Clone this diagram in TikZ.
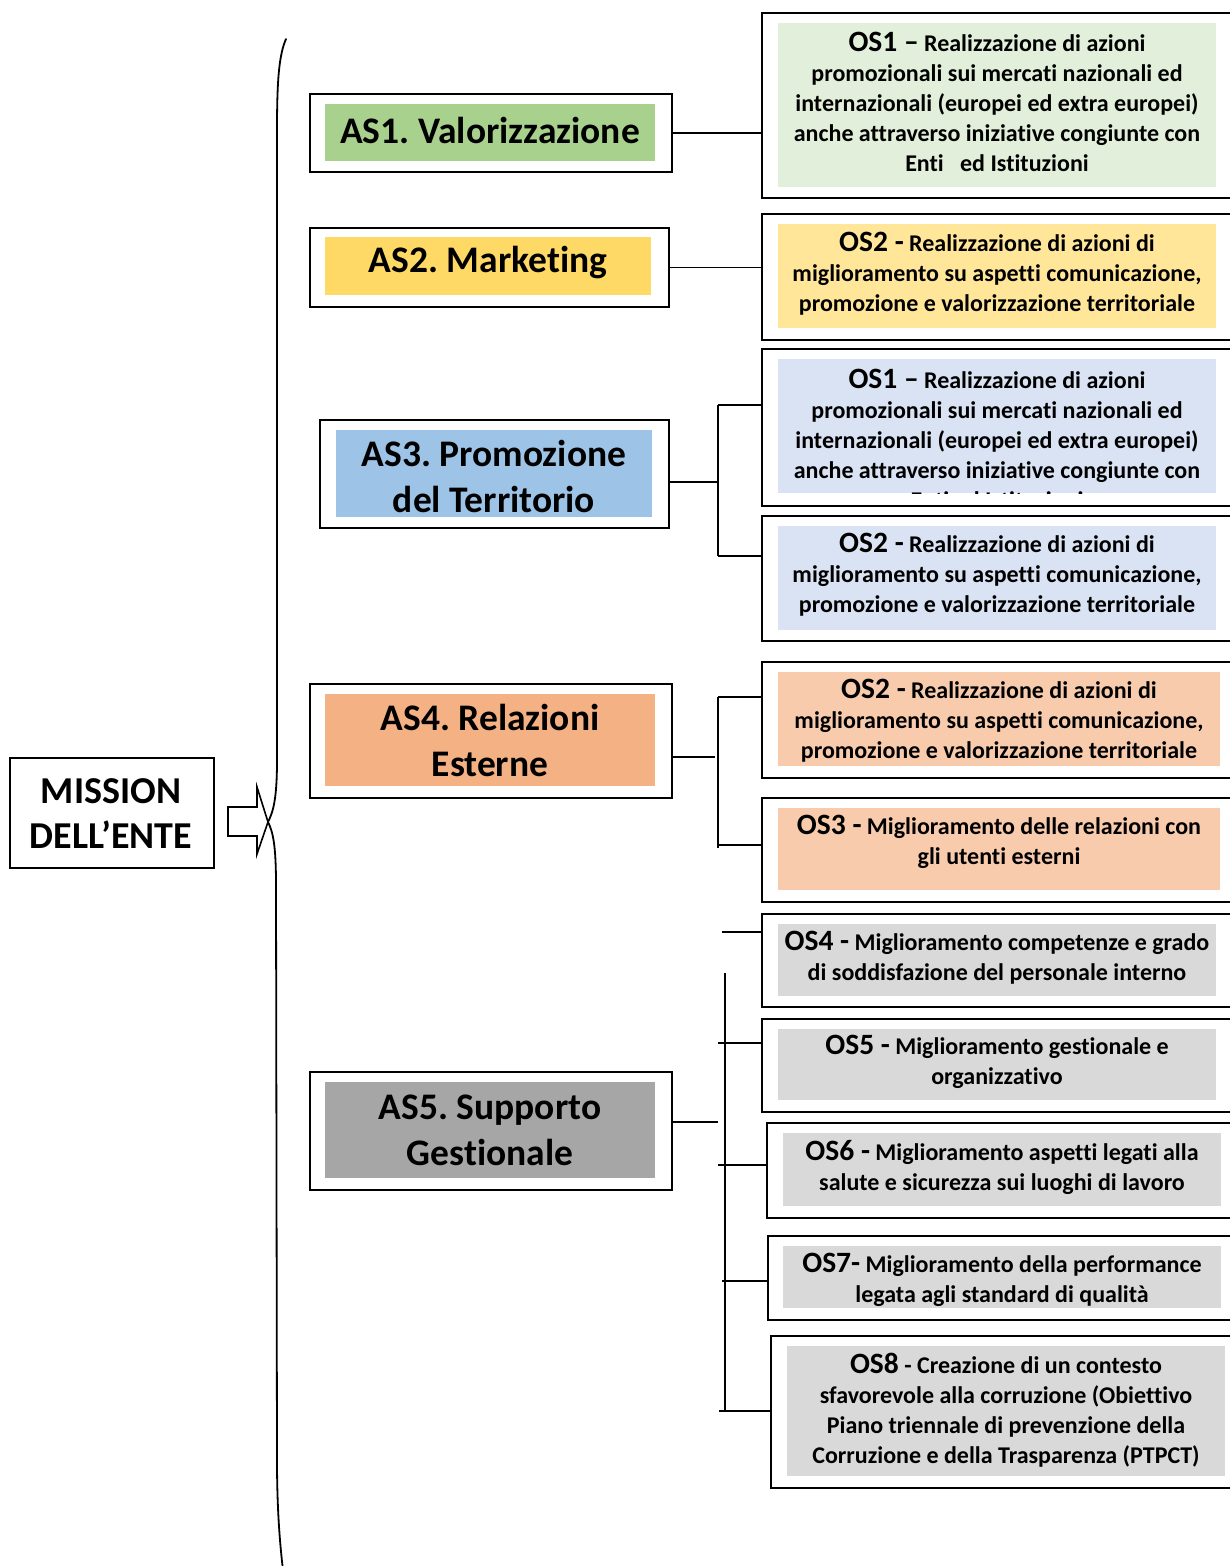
\documentclass[tikz,border=0pt]{standalone}
\usepackage{fontspec}
\setmainfont{Carlito}[Ligatures=CommonOff]
\definecolor{asgreen}{HTML}{A9D18E}
\definecolor{asyellow}{HTML}{FFD966}
\definecolor{asblue}{HTML}{9DC3E6}
\definecolor{asorange}{HTML}{F4B183}
\definecolor{asgray}{HTML}{A6A6A6}
\definecolor{osgreen}{HTML}{E2EFDA}
\definecolor{osyellow}{HTML}{FFE699}
\definecolor{osblue}{HTML}{DAE3F3}
\definecolor{osorange}{HTML}{F8CBAD}
\definecolor{osgray}{HTML}{D9D9D9}
\newcommand{\osl}[1]{{\fontsize{29.5}{30}\selectfont #1}}
\frenchspacing
\begin{document}
\begin{tikzpicture}[x=1pt,y=-1pt,
  outerbox/.style={draw=black, line width=1.8pt, fill=white, anchor=north west, inner sep=0pt},
  fillbox/.style={draw=none, fill=#1, anchor=north west, inner sep=0pt},
  astext/.style={font=\fontsize{37.5}{46}\selectfont\bfseries, align=center, inner sep=0pt},
  ostext/.style={font=\fontsize{24}{30}\selectfont\bfseries, align=center, inner sep=0pt},
  conn/.style={draw=black, line width=1.7pt},
  brace/.style={draw=black, line width=1.8pt, line cap=round}]
\clip (0,0) rectangle (1230,1566);
\fill[white] (0,0) rectangle (1230,1566);

% Mission
\node[outerbox, minimum width=204pt, minimum height=110pt] (mission) at (9,757) {};
\node[astext, font=\fontsize{38}{45}\selectfont\bfseries] (missiont) at (111,814) {MISSION\\DELL’ENTE};

% block arrow
\draw[line width=1.6pt, fill=white, line join=miter]
  (228,807) -- (257,807) -- (257,787) -- (268,822) -- (257,854) -- (257,836) -- (228,836) -- cycle;

% brace
\draw[brace] (286,39) .. controls (279,55) and (277,80) .. (277,130) -- (277,760)
  .. controls (277,800) and (273,812) .. (268,822)
  .. controls (273,832) and (276,845) .. (276,885) -- (277,1460)
  .. controls (277,1510) and (280,1545) .. (283,1570);

% AS boxes
\node[outerbox, minimum width=362pt, minimum height=78pt] (as1) at (309,93) {};
\node[fillbox=asgreen, minimum width=330pt, minimum height=57pt] (as1f) at (325,104) {};
\node[astext] (as1t) at (490,130) {AS1. Valorizzazione};

\node[outerbox, minimum width=359pt, minimum height=79pt] (as2) at (309,227) {};
\node[fillbox=asyellow, minimum width=326pt, minimum height=58pt] (as2f) at (325,237) {};
\node[astext] (as2t) at (488,263) {AS2. Marketing};

\node[outerbox, minimum width=349pt, minimum height=108pt] (as3) at (319,419) {};
\node[fillbox=asblue, minimum width=316pt, minimum height=87pt] (as3f) at (336,430) {};
\node[astext] (as3t) at (494,476) {AS3. Promozione\\del Territorio};

\node[outerbox, minimum width=362pt, minimum height=114pt] (as4) at (309,683) {};
\node[fillbox=asorange, minimum width=330pt, minimum height=92pt] (as4f) at (325,694) {};
\node[astext] (as4t) at (490,740) {AS4. Relazioni\\Esterne};

\node[outerbox, minimum width=362pt, minimum height=118pt] (as5) at (309,1071) {};
\node[fillbox=asgray, minimum width=330pt, minimum height=96pt] (as5f) at (325,1082) {};
\node[astext] (as5t) at (490,1130) {AS5. Supporto\\Gestionale};

% OS boxes
\node[outerbox, minimum width=490pt, minimum height=185pt] (os1g) at (761,12) {};
\node[fillbox=osgreen, minimum width=438pt, minimum height=164pt] (os1gf) at (778,23) {};
\node[ostext] (os1gt) at (997,102) {\osl{OS1 –} Realizzazione di azioni\\promozionali sui mercati nazionali ed\\internazionali (europei ed extra europei)\\anche attraverso iniziative congiunte con\\Enti\ \ \ ed Istituzioni};

\node[outerbox, minimum width=490pt, minimum height=126pt] (os2y) at (761,213) {};
\node[fillbox=osyellow, minimum width=438pt, minimum height=104pt] (os2yf) at (778,224) {};
\node[ostext] (os2yt) at (997,274) {\osl{OS2 -} Realizzazione di azioni di\\miglioramento su aspetti comunicazione,\\promozione e valorizzazione territoriale};

\node[outerbox, minimum width=490pt, minimum height=157pt] (os1b) at (761,348) {};
\node[fillbox=osblue, minimum width=438pt, minimum height=134pt] (os1bf) at (778,359) {};
\begin{scope}
\clip (778,359) rectangle (1216,493);
\node[ostext] (os1bt) at (997,439) {\osl{OS1 –} Realizzazione di azioni\\promozionali sui mercati nazionali ed\\internazionali (europei ed extra europei)\\anche attraverso iniziative congiunte con\\Enti ed Istituzioni};
\end{scope}

\node[outerbox, minimum width=490pt, minimum height=125pt] (os2b) at (761,515) {};
\node[fillbox=osblue, minimum width=438pt, minimum height=104pt] (os2bf) at (778,526) {};
\node[ostext] (os2bt) at (997,575) {\osl{OS2 -} Realizzazione di azioni di\\miglioramento su aspetti comunicazione,\\promozione e valorizzazione territoriale};

\node[outerbox, minimum width=490pt, minimum height=116pt] (os2o) at (761,661) {};
\node[fillbox=osorange, minimum width=442pt, minimum height=94pt] (os2of) at (778,672) {};
\node[ostext] (os2ot) at (999,721) {\osl{OS2 -} Realizzazione di azioni di\\miglioramento su aspetti comunicazione,\\promozione e valorizzazione territoriale};

\node[outerbox, minimum width=490pt, minimum height=104pt] (os3o) at (761,797) {};
\node[fillbox=osorange, minimum width=442pt, minimum height=82pt] (os3of) at (778,808) {};
\node[ostext] (os3ot) at (999,842) {\osl{OS3 -} Miglioramento delle relazioni con\\gli utenti esterni};

\node[outerbox, minimum width=490pt, minimum height=93pt] (os4) at (761,913) {};
\node[fillbox=osgray, minimum width=438pt, minimum height=72pt] (os4f) at (778,924) {};
\node[ostext] (os4t) at (997,958) {\osl{OS4 -} Miglioramento competenze e grado\\di soddisfazione del personale interno};

\node[outerbox, minimum width=490pt, minimum height=93pt] (os5) at (761,1018) {};
\node[fillbox=osgray, minimum width=438pt, minimum height=71pt] (os5f) at (778,1029) {};
\node[ostext] (os5t) at (997,1062) {\osl{OS5 -} Miglioramento gestionale e\\organizzativo};

\node[outerbox, minimum width=490pt, minimum height=95pt] (os6) at (766,1122) {};
\node[fillbox=osgray, minimum width=438pt, minimum height=73pt] (os6f) at (783,1133) {};
\node[ostext] (os6t) at (1002,1167) {\osl{OS6 -} Miglioramento aspetti legati alla\\salute e sicurezza sui luoghi di lavoro};

\node[outerbox, minimum width=490pt, minimum height=84pt] (os7) at (767,1235) {};
\node[fillbox=osgray, minimum width=438pt, minimum height=62pt] (os7f) at (783,1246) {};
\node[ostext] (os7t) at (1002,1280) {\osl{OS7-} Miglioramento della performance\\legata agli standard di qualità};

\node[outerbox, minimum width=490pt, minimum height=152pt] (os8) at (770,1335) {};
\node[fillbox=osgray, minimum width=438pt, minimum height=130pt] (os8f) at (787,1346) {};
\node[ostext] (os8t) at (1006,1410) {\osl{OS8} - Creazione di un contesto\\sfavorevole alla corruzione (Obiettivo\\Piano triennale di prevenzione della\\Corruzione e della Trasparenza (PTPCT)};

% connectors
\draw[conn] (as1.east) -- (as1.east -| os1g.west);
\draw[conn] (as2.east) -- (as2.east -| os2y.west);

\coordinate (b3) at (718,482);
\coordinate (b3t) at (718,405);
\coordinate (b3b) at (718,556);
\draw[conn] (as3.east |- b3) -- (b3);
\draw[conn] (b3t) -- (b3b);
\draw[conn] (b3t) -- (b3t -| os1b.west);
\draw[conn] (b3b) -- (b3b -| os2b.west);

\coordinate (b4) at (715,757);
\coordinate (b4t) at (718,697);
\coordinate (b4b) at (718,848);
\draw[conn] (as4.east |- b4) -- (b4);
\draw[conn] (b4t) -- (b4b);
\draw[conn] (b4t) -- (b4t -| os2o.west);
\coordinate (b4c) at (718,845);
\draw[conn] (b4c) -- (b4c -| os3o.west);

\coordinate (b5) at (718,1122);
\coordinate (b5t) at (725,973);
\coordinate (b5b) at (725,1411);
\draw[conn] (as5.east |- b5) -- (b5);
\draw[conn] (b5t) -- (b5b);
\coordinate (t4) at (722,932);
\coordinate (t5) at (718,1043);
\coordinate (t6) at (718,1165);
\coordinate (t7) at (722,1281);
\coordinate (t8) at (719,1411);
\draw[conn] (t4) -- (t4 -| os4.west);
\draw[conn] (t5) -- (t5 -| os5.west);
\draw[conn] (t6) -- (t6 -| os6.west);
\draw[conn] (t7) -- (t7 -| os7.west);
\draw[conn] (t8) -- (t8 -| os8.west);
\end{tikzpicture}
\end{document}
